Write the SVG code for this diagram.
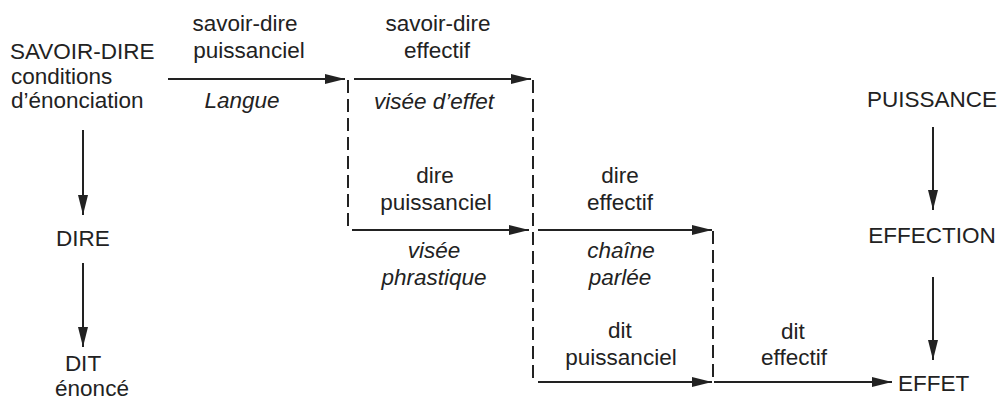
<svg xmlns="http://www.w3.org/2000/svg" width="1003" height="401" viewBox="0 0 1003 401">
<style>
text{font-family:"Liberation Sans",Arial,sans-serif;font-size:22.5px;fill:#222}
.c{text-anchor:middle}
.i{font-style:italic}
.ln{stroke:#222;stroke-width:2;fill:none}
.ar{marker-end:url(#ah)}
.d{stroke-dasharray:13 6}
</style>
<defs>
<marker id="ah" markerUnits="userSpaceOnUse" markerWidth="20" markerHeight="10" refX="20" refY="5" orient="auto">
<path d="M0,0 L20,5 L0,10 z" fill="#222"/>
</marker>
</defs>
<rect width="1003" height="401" fill="#fff"/>
<g id="connectors">
<line class="ln ar" x1="168" y1="79" x2="345" y2="79"/>
<line class="ln ar" x1="354" y1="79" x2="531" y2="79"/>
<line class="ln d" x1="348" y1="80" x2="348" y2="230"/>
<line class="ln d" x1="533" y1="80" x2="533" y2="382"/>
<line class="ln ar" x1="352" y1="230" x2="529" y2="230"/>
<line class="ln ar" x1="538" y1="230" x2="712" y2="230"/>
<line class="ln d" x1="713" y1="231" x2="713" y2="382"/>
<line class="ln ar" x1="538" y1="382" x2="712" y2="382"/>
<line class="ln ar" x1="714" y1="382" x2="892" y2="382"/>
<line class="ln ar" x1="83" y1="130" x2="83" y2="215"/>
<line class="ln ar" x1="83" y1="263" x2="83" y2="347"/>
<line class="ln ar" x1="933" y1="127" x2="933" y2="210"/>
<line class="ln ar" x1="933" y1="277" x2="933" y2="360"/>
</g>
<g id="savoir-dire">
<text x="10" y="58.5">SAVOIR-DIRE</text>
<text x="11" y="84">conditions</text>
<text x="11" y="108">d’énonciation</text>
</g>
<g id="dire"><text class="c" x="83" y="246">DIRE</text></g>
<g id="dit">
<text class="c" x="83" y="370.5">DIT</text>
<text class="c" x="92" y="396">énoncé</text>
</g>
<g id="puissance"><text class="c" x="932" y="107">PUISSANCE</text></g>
<g id="effection"><text class="c" x="932" y="243">EFFECTION</text></g>
<g id="effet"><text x="898" y="391">EFFET</text></g>
<g id="l-sd-puiss">
<text class="c" x="245" y="31">savoir-dire</text>
<text class="c" x="249" y="58">puissanciel</text>
<text class="c i" x="242" y="108">Langue</text>
</g>
<g id="l-sd-eff">
<text class="c" x="438" y="31">savoir-dire</text>
<text class="c" x="437" y="58">effectif</text>
<text class="c i" x="434" y="109">visée d’effet</text>
</g>
<g id="l-dire-puiss">
<text class="c" x="435" y="183">dire</text>
<text class="c" x="436" y="210">puissanciel</text>
<text class="c i" x="434" y="258">visée</text>
<text class="c i" x="434" y="285">phrastique</text>
</g>
<g id="l-dire-eff">
<text class="c" x="620" y="183">dire</text>
<text class="c" x="620" y="210">effectif</text>
<text class="c i" x="621" y="258">chaîne</text>
<text class="c i" x="620" y="285">parlée</text>
</g>
<g id="l-dit-puiss">
<text class="c" x="620" y="338">dit</text>
<text class="c" x="621" y="365">puissanciel</text>
</g>
<g id="l-dit-eff">
<text class="c" x="793" y="339">dit</text>
<text class="c" x="794" y="365">effectif</text>
</g>
</svg>
